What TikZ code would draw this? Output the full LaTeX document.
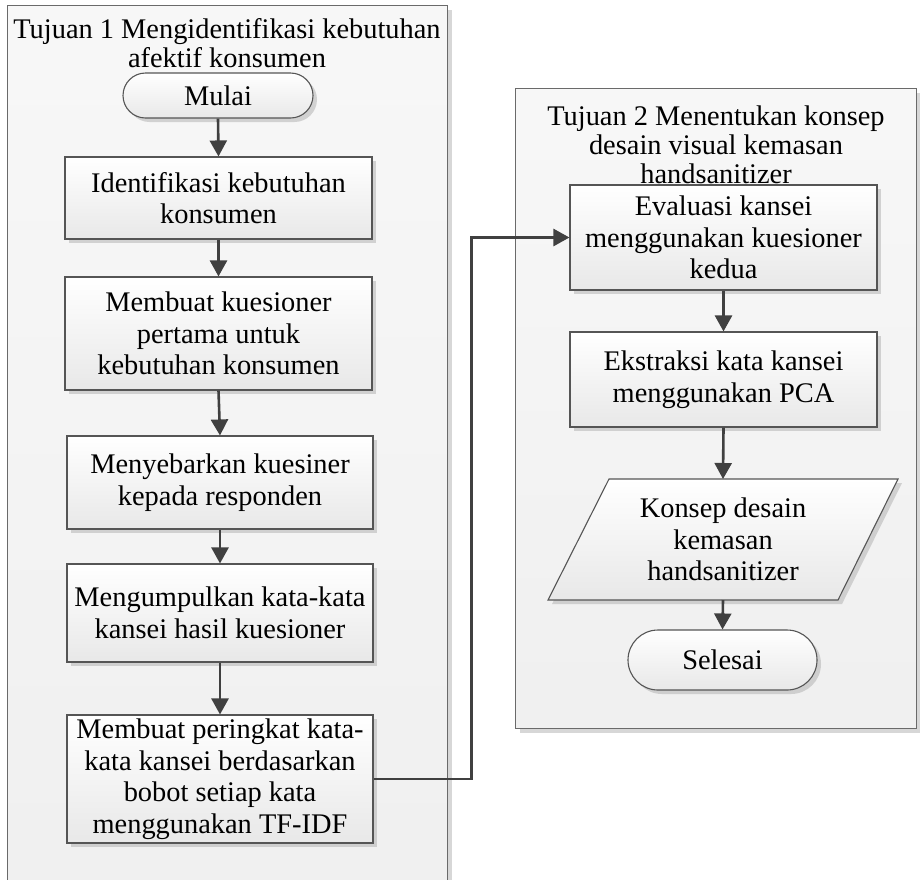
\documentclass[tikz,border=0pt]{standalone}
\usepackage{fontspec}
\setmainfont{Liberation Serif}
\usetikzlibrary{arrows.meta,shadows}
\definecolor{arr}{HTML}{404040}
\definecolor{bd}{HTML}{555555}
\definecolor{lanebd}{HTML}{6A6A6A}
\begin{document}
\begin{tikzpicture}[x=1pt,y=-1pt,
  txt/.style={font=\fontsize{28.4}{31.6}\selectfont, align=center, text=black},
  ttl/.style={font=\fontsize{28.4}{28.8}\selectfont, align=center, text=black, inner sep=0pt},
  shad/.style={drop shadow={shadow xshift=4pt, shadow yshift=-4pt, fill=black!35, opacity=0.45}},
  lane/.style={draw=lanebd, line width=1pt, top color=white!97!black, bottom color=black!6, shad, inner sep=0pt, anchor=north west},
  procbox/.style={draw=bd, line width=1.1pt, top color=white, bottom color=black!9, shad, inner sep=0pt, txt},
  term/.style={procbox},
  conn/.style={draw=arr, line width=2.6pt, -{Triangle[length=16pt,width=17pt]}}
]
\useasboundingbox (0,0) rectangle (920,879);

% swimlanes
\node[lane, minimum width=440pt, minimum height=890pt] (lane1) at (7,5) {};
\node[lane, minimum width=401pt, minimum height=640pt] (lane2) at (515,88) {};

\node[ttl, anchor=north] (t1) at (227,18.5) {Tujuan 1 Mengidentifikasi kebutuhan\\afektif konsumen};
\node[ttl, anchor=north] (t2) at (716,105.5) {Tujuan 2 Menentukan konsep\\desain visual kemasan\\handsanitizer};

% left column
\node[term, minimum width=190pt, minimum height=45pt, rounded corners=22.5pt] (mulai) at (218,95.5) {Mulai};
\node[procbox, minimum width=307pt, minimum height=82pt] (b1) at (218.5,198) {Identifikasi kebutuhan\\konsumen};
\node[procbox, minimum width=307pt, minimum height=113pt] (b2) at (218.5,333.5) {Membuat kuesioner\\pertama untuk\\kebutuhan konsumen};
\node[procbox, minimum width=306pt, minimum height=93pt] (b3) at (220,482.5) {Menyebarkan kuesiner\\kepada responden};
\node[procbox, minimum width=306pt, minimum height=98pt] (b4) at (220,613) {Mengumpulkan kata-kata\\kansei hasil kuesioner};
\node[procbox, minimum width=306pt, minimum height=128pt] (b5) at (220,779) {Membuat peringkat kata-\\kata kansei berdasarkan\\bobot setiap kata\\menggunakan TF-IDF};

% right column
\node[procbox, minimum width=307pt, minimum height=105pt] (ev) at (723.5,237.5) {Evaluasi kansei\\menggunakan kuesioner\\kedua};
\node[procbox, minimum width=307pt, minimum height=95pt] (ex) at (723.5,379.5) {Ekstraksi kata kansei\\menggunakan PCA};
\coordinate (ktop) at (723,479);
\coordinate (kbot) at (723,600);
\path[draw=bd, line width=1.1pt, top color=white, bottom color=black!9, shad] (609,479) -- (898,479) -- (838,600) -- (548,600) -- cycle;
\node[txt, inner sep=0pt] (konsep) at (723,539.5) {Konsep desain\\kemasan\\handsanitizer};
\node[term, minimum width=189pt, minimum height=60pt, rounded corners=30pt] (selesai) at (722.5,660) {Selesai};

% connectors
\draw[conn] (mulai.south) -- (b1.north);
\draw[conn] (b1.south) -- (b2.north);
\draw[conn] (b2.south) -- (b3.north);
\draw[conn] (b3.south) -- (b4.north);
\draw[conn] (b4.south) -- (b5.north);
\draw[conn] (b5.east) -- ++(98,0) |- (ev.west);
\draw[conn] (ev.south) -- (ex.north);
\draw[conn] (ex.south) -- (ktop);
\draw[conn] (kbot) -- (selesai.north);
\end{tikzpicture}
\end{document}
